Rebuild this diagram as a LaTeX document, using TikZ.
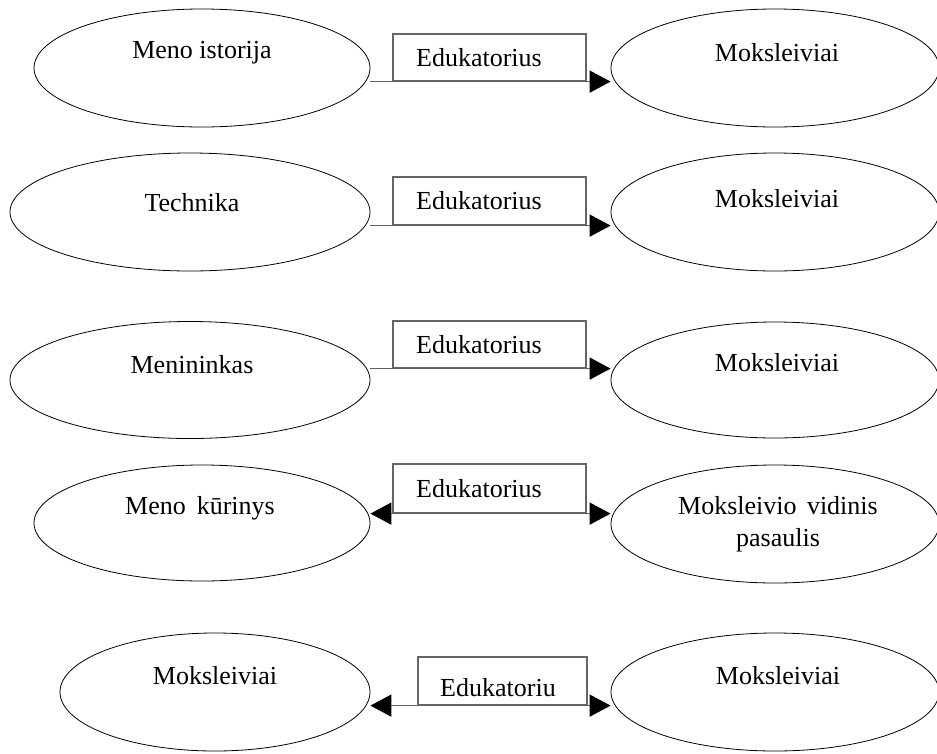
\documentclass[tikz,border=0pt]{standalone}
\usepackage{fontspec}
\setmainfont{Liberation Serif}
\usetikzlibrary{shapes.geometric,arrows.meta}
\begin{document}
\begin{tikzpicture}[x=1pt,y=-1pt,
  ell/.style={draw=black,line width=0.8pt,ellipse,inner sep=0pt},
  txt/.style={inner sep=0pt,font=\fontsize{26}{32}\selectfont,align=center},
  ebox/.style={draw=black!60,line width=1.2pt,inner sep=0pt},
  conn/.style={draw=black!62,line width=1.6pt},
  tipend/.style={-{Triangle[length=21pt,width=22pt,color=black,fill=black]}},
  tipboth/.style={{Triangle[length=21pt,width=22pt,color=black,fill=black]}-{Triangle[length=21pt,width=22pt,color=black,fill=black]}}]
\useasboundingbox (0,0) rectangle (937,753);
% row 1
\node[ell,minimum width=336pt,minimum height=118pt] (L1) at (202,68) {};
\node[txt] (L1t) at (202,53) {Meno istorija};
\node[ell,minimum width=328pt,minimum height=118pt] (R1) at (775,68) {};
\node[txt] (R1t) at (777,53) {Moksleiviai};
\node[ebox,minimum width=193pt,minimum height=47pt] (B1) at (489.5,57.5) {};
\node[txt] (B1t) at (479,57.5) {Edukatorius};
\draw[conn,tipend] (L1.east |- B1.south) -- (R1.west |- B1.south);
% row 2
\node[ell,minimum width=360pt,minimum height=118pt] (L2) at (190,212) {};
\node[txt] (L2t) at (192,203) {Technika};
\node[ell,minimum width=328pt,minimum height=118pt] (R2) at (775,212) {};
\node[txt] (R2t) at (777,199) {Moksleiviai};
\node[ebox,minimum width=193pt,minimum height=48pt] (B2) at (489.5,201) {};
\node[txt] (B2t) at (479,201) {Edukatorius};
\draw[conn,tipend] (L2.east |- B2.south) -- (R2.west |- B2.south);
% row 3
\node[ell,minimum width=360pt,minimum height=117pt] (L3) at (190,380) {};
\node[txt] (L3t) at (192,365) {Menininkas};
\node[ell,minimum width=328pt,minimum height=116pt] (R3) at (775,380) {};
\node[txt] (R3t) at (777,363) {Moksleiviai};
\node[ebox,minimum width=193pt,minimum height=47pt] (B3) at (489.5,344.5) {};
\node[txt] (B3t) at (479,344.5) {Edukatorius};
\draw[conn,tipend] (L3.east |- B3.south) -- (R3.west |- B3.south);
% row 4
\node[ell,minimum width=336pt,minimum height=116pt] (L4) at (202,523) {};
\node[txt] (L4t) at (200,508) {Meno\hspace{0.42em}kūrinys};
\node[ell,minimum width=328pt,minimum height=118pt] (R4) at (775,524) {};
\node[txt] (R4t) at (778,524) {Moksleivio\hspace{0.4em}vidinis\\pasaulis};
\node[ebox,minimum width=193pt,minimum height=49pt] (B4) at (489.5,488.5) {};
\node[txt] (B4t) at (479,488.5) {Edukatorius};
\draw[conn,tipboth] (L4.east |- B4.south) -- (R4.west |- B4.south);
% row 5
\node[ell,minimum width=310pt,minimum height=118pt] (L5) at (215,692) {};
\node[txt] (L5t) at (215,676) {Moksleiviai};
\node[ell,minimum width=328pt,minimum height=118pt] (R5) at (775,692) {};
\node[txt] (R5t) at (778,676) {Moksleiviai};
\node[ebox,minimum width=169pt,minimum height=48pt] (B5) at (502.5,681) {};
\node[txt] (B5t) at (498,688) {Edukatoriu};
\draw[conn,tipboth] (L5.east |- B5.south) -- (R5.west |- B5.south);
\end{tikzpicture}
\end{document}
